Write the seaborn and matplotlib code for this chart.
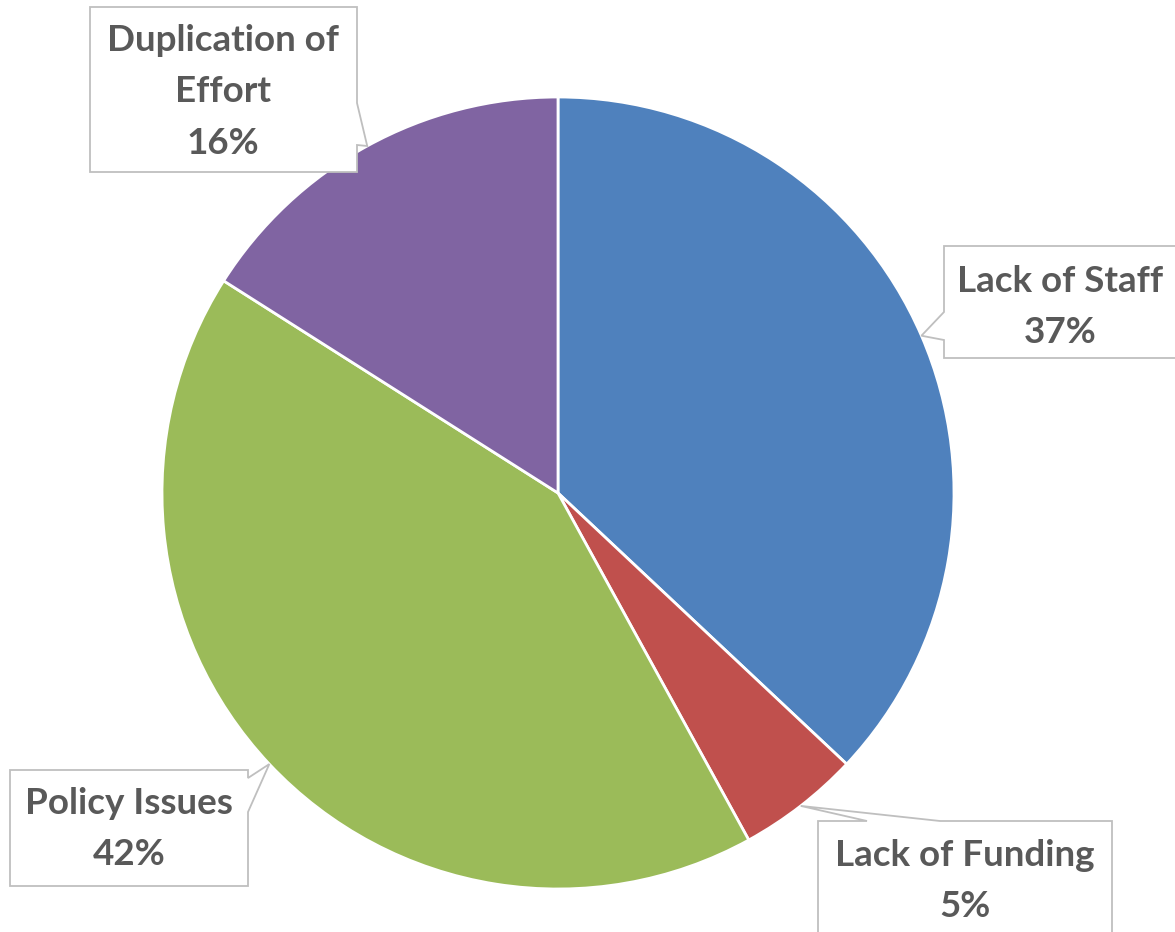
import numpy as np
import matplotlib
matplotlib.use("Agg")
import matplotlib.pyplot as plt
from matplotlib.patches import Polygon
import seaborn as sns

# data
categories = ["Lack of Staff", "Lack of Funding", "Policy Issues", "Duplication of\nEffort"]
shares = [37, 5, 42, 16]
colors = ["#4F81BD", "#C0504D", "#9BBB59", "#8064A2"]

W, H = 1175, 932
cx, cy, r = 558, 439, 396

sns.set_theme(style="white")
plt.rcParams["font.family"] = ["Lato", "DejaVu Sans"]

fig = plt.figure(figsize=(W / 100, H / 100), dpi=100)
ax = fig.add_axes([0, 0, 1, 1])

ax.pie(shares, colors=colors, startangle=90, counterclock=False,
       center=(cx, cy), radius=r, frame=True,
       wedgeprops=dict(edgecolor="white", linewidth=2))
ax.set_xlim(0, W)
ax.set_ylim(0, H)
ax.set_aspect("equal")
ax.axis("off")

# callout boxes: (left, top, right, bottom) in image pixels, pointer side, base span, text centre
boxes = [
    ((944, 246, 1190, 358), "left", (312, 340), (1060, 307)),
    ((818, 821, 1112, 950), "top", (867, 940), (965, 881)),
    ((10, 770, 248, 886), "right", (778, 812), (129, 829)),
    ((90, 7, 357, 172), "right", (103, 145), (223, 92)),
]

total = sum(shares)
cum = np.cumsum([0] + shares[:-1])
for i, (lab, val) in enumerate(zip(categories, shares)):
    mid = 90 - 360 * (cum[i] + val / 2) / total
    tip = (cx + r * np.cos(np.radians(mid)), cy + r * np.sin(np.radians(mid)))
    (l, t, rr, b), side, (s0, s1), (tx, ty) = boxes[i]
    t, b = H - t, H - b
    if side == "left":
        verts = [(l, t), (rr, t), (rr, b), (l, b), (l, H - s1), tip, (l, H - s0)]
    elif side == "right":
        verts = [(l, t), (rr, t), (rr, H - s0), tip, (rr, H - s1), (rr, b), (l, b)]
    else:
        verts = [(l, t), (s0, t), tip, (s1, t), (rr, t), (rr, b), (l, b)]
    ax.add_patch(Polygon(verts, closed=True, facecolor="white",
                         edgecolor="#BFBFBF", linewidth=1.3, zorder=3))
    ax.text(tx, H - ty, f"{lab}\n{val}%", ha="center", va="center",
            fontsize=26.5, fontweight="bold", color="#595959",
            linespacing=1.68, zorder=4)

fig.savefig("out.png", dpi=100)
